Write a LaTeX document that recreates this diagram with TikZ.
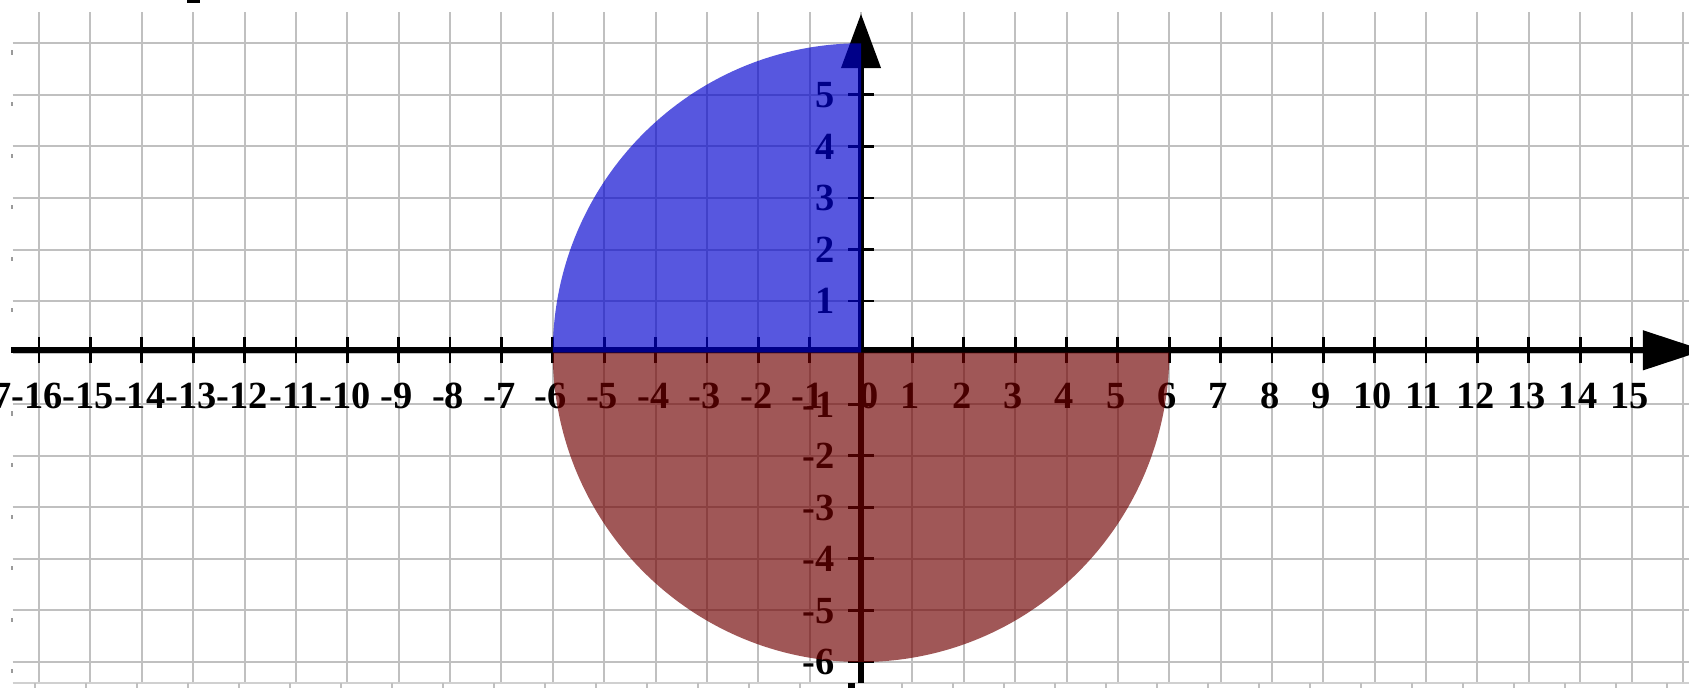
\documentclass[tikz,border=0pt]{standalone}
\usepackage{fontspec}
\setmainfont{Liberation Serif}
\definecolor{gridgray}{RGB}{192,192,192}
\definecolor{gridlight}{RGB}{208,208,208}
\definecolor{bluefill}{RGB}{0,0,207}
\definecolor{redfill}{RGB}{112,0,0}
\begin{document}
\begin{tikzpicture}[x=25.685pt, y=25.78pt,
  gridline/.style={draw=gridgray, line width=1pt},
  axisline/.style={line width=2.9pt, draw=black},
  tickline/.style={line width=1.4pt, draw=black},
  lbl/.style={font=\fontsize{19.2}{20}\selectfont\bfseries, inner sep=0pt, text=black},
  bluequarter/.style={fill=bluefill, fill opacity=0.66},
  redhalf/.style={fill=redfill, fill opacity=0.66}
]
\useasboundingbox (-16.761,-6.486) rectangle (16.118,6.839);
\fill[white] (-16.761,-6.486) rectangle (16.118,6.839);
% grid
\foreach \i in {-16,...,16} \draw[gridline] (\i,-6.408) -- (\i,6.606);
\foreach \j in {-6,...,6} \draw[gridline] (-16.513,\j) -- (16.3,\j);
\draw[gridline, draw=gridlight] (-16.513,-6.408) -- (16.3,-6.408);
% small remnants at the edges
\foreach \j in {-6,...,-1,1,2,...,6} \fill[gridgray!80!black] (-16.545,\j-0.14) rectangle (-16.505,\j-0.22);
\fill[black] (-13.12,6.79) rectangle (-12.87,6.85);
\foreach \k in {0,...,15,17,18,...,32} \draw[gridline] ({(35+51*\k-861)/51.37},-6.408) -- ({(35+51*\k-861)/51.37},-6.6);
\fill[black] (-0.253,-6.408) rectangle (-0.117,-6.6);
% axes
\coordinate (xs) at (-16.54,0.045);
\coordinate (xe) at (15.4,0.045);
\coordinate (ys) at (0,-6.408);
\coordinate (ye) at (0,5.6);
\draw[axisline] (xs) -- (xe);
\draw[axisline] (ys) -- (ye);
\fill[black] (15.22,0.435) -- (16.41,0.045) -- (15.22,-0.345) -- cycle;
\fill[black] (-0.39,5.52) -- (0,6.567) -- (0.39,5.52) -- cycle;
% ticks
\foreach \i in {-16,...,15} \draw[tickline] (\i,-0.208) -- (\i,0.298);
\foreach \j in {-6,...,-1,1,2,...,5} \draw[tickline] (-0.253,\j) -- (0.253,\j);
% labels
\foreach \i [count=\n] in {-17,...,-1,1,2,...,15}
  \node[lbl, anchor=base] (xl\n) at (\i-0.04,-1.074) {\i};
\node[lbl, anchor=base] (xl0) at (0.165,-1.074) {0};
\foreach \j [count=\n] in {-6,...,-1,1,2,...,5}
  \node[lbl, anchor=base east] (yl\n) at (-0.5,\j-0.25) {\j};
% regions
\fill[bluequarter] (0,0) -- (-6,0) arc[start angle=180, end angle=90, radius=6] -- cycle;
\fill[redhalf] (-6,0) arc[start angle=180, end angle=360, radius=6] -- cycle;
\end{tikzpicture}
\end{document}
